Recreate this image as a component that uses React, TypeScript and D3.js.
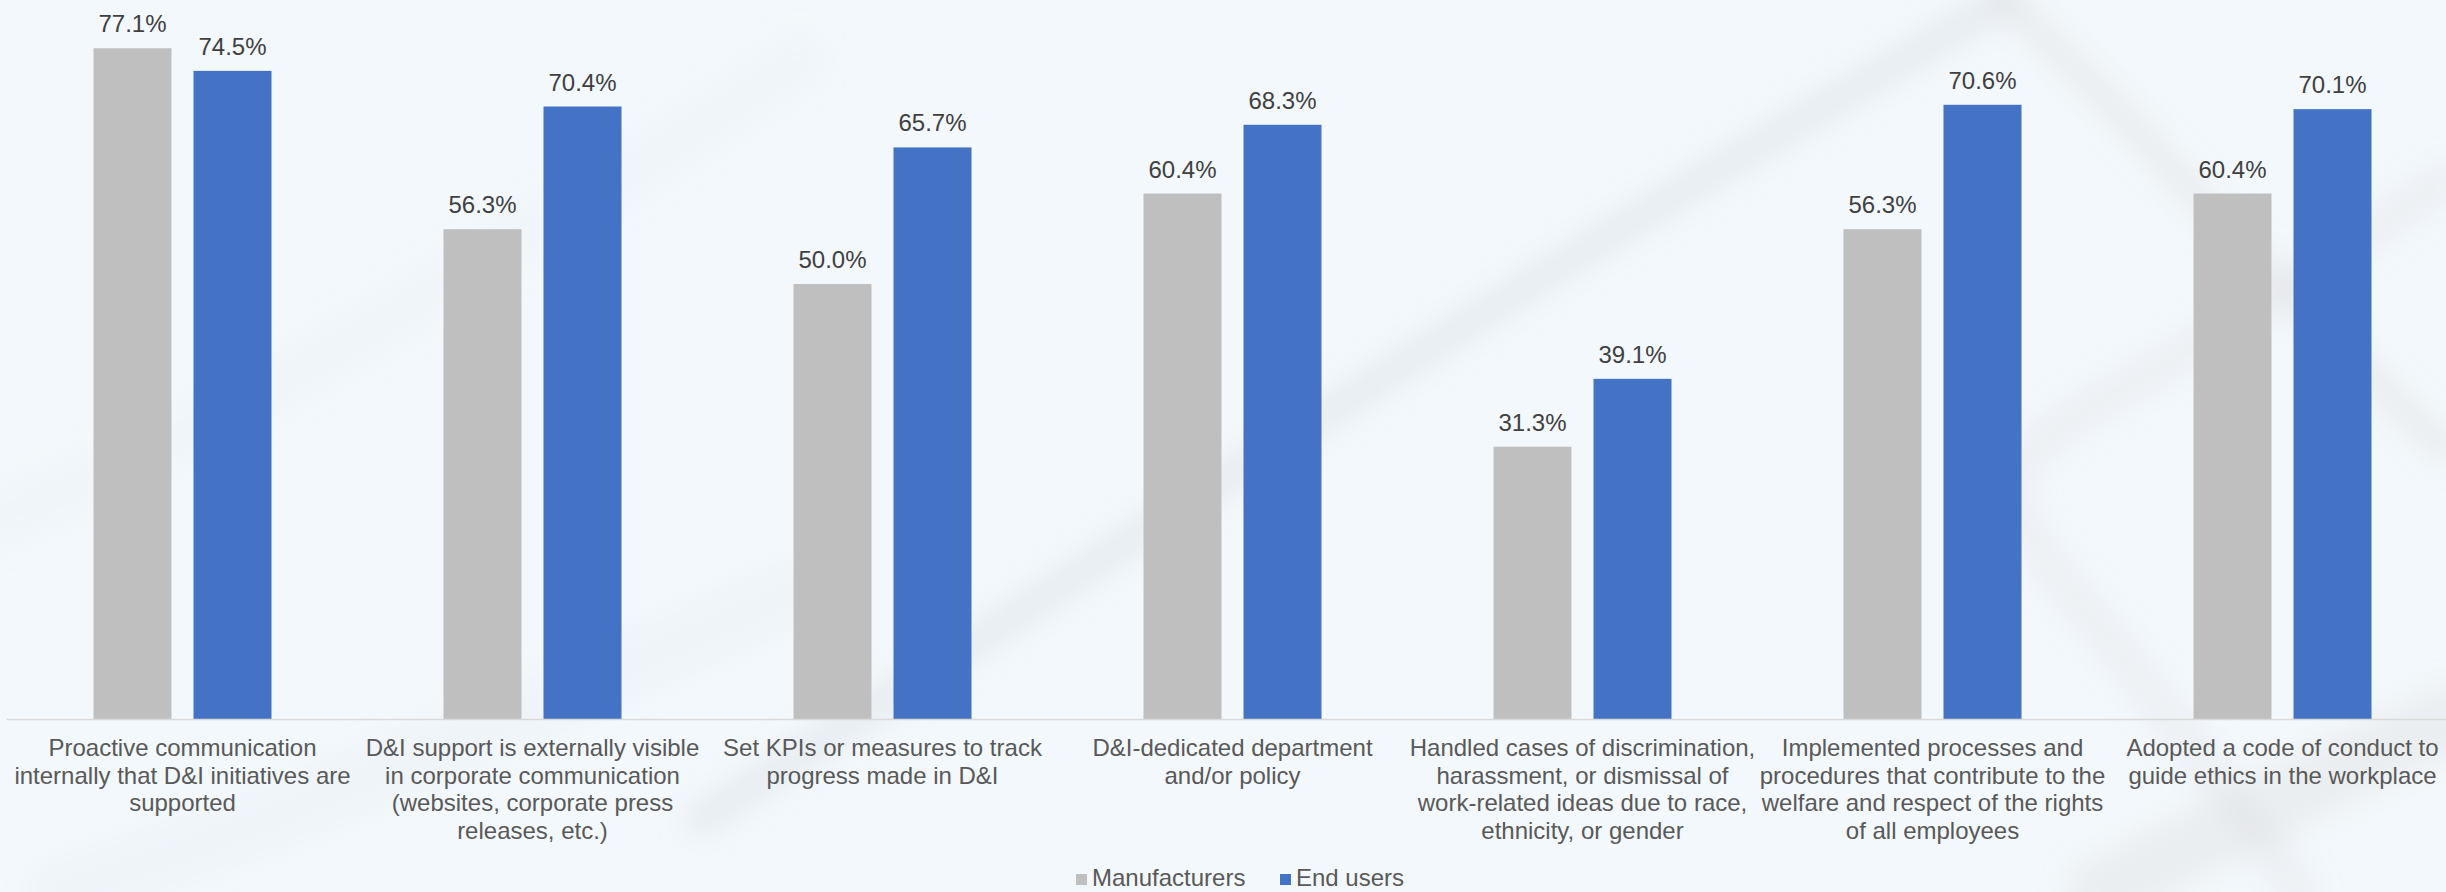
import React from "react";
import * as d3 from "d3";

const categories = [
  "Proactive communication internally that D&I initiatives are supported",
  "D&I support is externally visible in corporate communication (websites, corporate press releases, etc.)",
  "Set KPIs or measures to track progress made in D&I",
  "D&I-dedicated department and/or policy",
  "Handled cases of discrimination, harassment, or dismissal of work-related ideas due to race, ethnicity, or gender",
  "Implemented processes and procedures that contribute to the welfare and respect of the rights of all employees",
  "Adopted a code of conduct to guide ethics in the workplace",
];

const categoryLines = [
  ["Proactive communication", "internally that D&I initiatives are", "supported"],
  ["D&I support is externally visible", "in corporate communication", "(websites, corporate press", "releases, etc.)"],
  ["Set KPIs or measures to track", "progress made in D&I"],
  ["D&I-dedicated department", "and/or policy"],
  ["Handled cases of discrimination,", "harassment, or dismissal of", "work-related ideas due to race,", "ethnicity, or gender"],
  ["Implemented processes and", "procedures that contribute to the", "welfare and respect of the rights", "of all employees"],
  ["Adopted a code of conduct to", "guide ethics in the workplace"],
];

const seriesNames = ["Manufacturers", "End users"];
const manufacturers = [77.1, 56.3, 50.0, 60.4, 31.3, 56.3, 60.4];
const endUsers = [74.5, 70.4, 65.7, 68.3, 39.1, 70.6, 70.1];
const seriesColors = ["#bfbfbf", "#4472c4"];

const W = 2446;
const H = 892;
const FONT = "'Liberation Sans', Arial, sans-serif";

export default function App() {
  const x0 = d3.scaleBand<string>().domain(categories).range([7.5, 2457.5]).padding(0);
  const x1 = d3.scaleBand<string>().domain(seriesNames).range([86, 264]).paddingInner(0.22);
  const y = d3.scaleLinear().domain([0, 100]).range([719, -151]);
  const color = d3.scaleOrdinal<string, string>().domain(seriesNames).range(seriesColors);
  const values = [manufacturers, endUsers];
  const fmt = (v: number) => d3.format(".1f")(v) + "%";

  const line = d3.line<[number, number]>().curve(d3.curveBasis);

  const streaks: { pts: [number, number][]; w: number; o: number; c: string }[] = [
    { pts: [[700, 820], [1100, 560], [1500, 300], [1800, 120], [2005, 0]], w: 34, o: 0.2, c: "#b9bec8" },
    { pts: [[2005, 0], [2100, 90], [2200, 200], [2320, 330], [2446, 450]], w: 30, o: 0.18, c: "#c4bdb8" },
    { pts: [[2446, 180], [2366, 233], [2150, 380], [1960, 470], [2100, 620], [2300, 892]], w: 40, o: 0.14, c: "#c8c2bd" },
    { pts: [[0, 520], [200, 430], [420, 300], [620, 180], [800, 60]], w: 60, o: 0.06, c: "#b8c4d2" },
    { pts: [[60, 892], [250, 830], [500, 720], [800, 590]], w: 60, o: 0.1, c: "#c9cfd8" },
    { pts: [[2100, 892], [2300, 790], [2446, 720]], w: 70, o: 0.18, c: "#c8c0ba" },
  ];

  return (
    <svg
      width={W}
      height={H}
      style={{ position: "fixed", left: 0, top: 0, display: "block" }}
      fontFamily={FONT}
    >
      <defs>
        <filter id="blur" x="-20%" y="-20%" width="140%" height="140%">
          <feGaussianBlur stdDeviation="14" />
        </filter>
      </defs>
      <rect x={0} y={0} width={W} height={H} fill="#f3f8fc" />
      <g filter="url(#blur)">
        {streaks.map((s, i) => (
          <path
            key={i}
            d={line(s.pts) || ""}
            fill="none"
            stroke={s.c}
            strokeWidth={s.w}
            strokeOpacity={s.o}
            strokeLinecap="round"
          />
        ))}
      </g>

      {categories.map((cat, ci) => (
        <g key={cat} transform={`translate(${x0(cat)},0)`}>
          {seriesNames.map((s, si) => {
            const v = values[si][ci];
            const bx = x1(s)!;
            const bw = x1.bandwidth();
            return (
              <g key={s}>
                <rect x={bx} y={y(v)} width={bw} height={y(0) - y(v)} fill={color(s)} />
                <text
                  x={bx + bw / 2}
                  y={y(v) - 16}
                  textAnchor="middle"
                  fontSize={24}
                  fill="#404040"
                >
                  {fmt(v)}
                </text>
              </g>
            );
          })}
          <text
            x={x0.bandwidth() / 2}
            y={756}
            textAnchor="middle"
            fontSize={24}
            fill="#595959"
          >
            {categoryLines[ci].map((ln, li) => (
              <tspan key={li} x={x0.bandwidth() / 2} y={756 + li * 27.5}>
                {ln}
              </tspan>
            ))}
          </text>
        </g>
      ))}

      <line x1={6.7} x2={W} y1={y(0) + 0.5} y2={y(0) + 0.5} stroke="#d9d9d9" strokeWidth={1.5} />

      <g>
        {seriesNames.map((s, i) => {
          const lx = [1076, 1280][i];
          return (
            <g key={s}>
              <rect x={lx} y={874} width={11} height={11} fill={color(s)} />
              <text x={lx + 16} y={886} fontSize={24} fill="#595959">
                {s}
              </text>
            </g>
          );
        })}
      </g>
    </svg>
  );
}
